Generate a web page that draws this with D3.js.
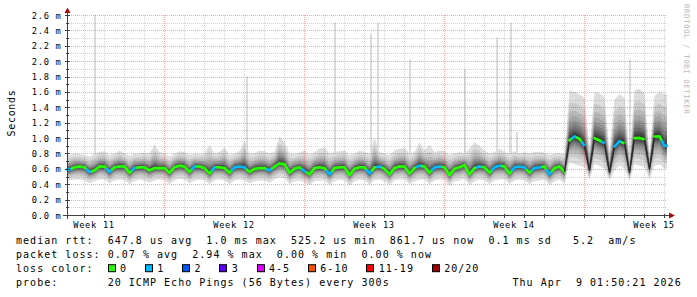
<!DOCTYPE html>
<html>
<head>
<meta charset="utf-8">
<script src="https://cdn.jsdelivr.net/npm/d3@7"></script>
<style>
  body { margin: 0; background: #fff; }
  svg { display: block; }
</style>
</head>
<body>
<div id="chart"></div>
<script>
// smokeping style graph: 30 days, one step every 6 hours

const STEP_DAYS = 0.25;
const RANGE_DAYS = 30;
const FIRST_MIDNIGHT = 0.85;   // days after graph start
const FIRST_MONDAY = 4.85;
const WEEK_LABELS = ["Week 11", "Week 12", "Week 13", "Week 14", "Week 15"];

// median rtt in ms per step
const MEDIAN = [
  0.59,0.62,0.63,0.62,0.56,0.58,0.63,0.63,0.56,0.62,
  0.63,0.63,0.55,0.61,0.62,0.62,0.58,0.61,0.61,0.61,
  0.55,0.62,0.64,0.63,0.56,0.63,0.63,0.61,0.54,0.62,
  0.62,0.61,0.55,0.62,0.63,0.62,0.56,0.60,0.61,0.61,
  0.58,0.63,0.67,0.66,0.55,0.60,0.62,0.57,0.53,0.61,
  0.62,0.61,0.53,0.61,0.62,0.62,0.52,0.60,0.62,0.62,
  0.54,0.62,0.63,0.60,0.53,0.61,0.63,0.63,0.54,0.61,
  0.64,0.63,0.55,0.62,0.63,0.62,0.52,0.60,0.62,0.65,
  0.53,0.61,0.63,0.62,0.55,0.62,0.64,0.63,0.54,0.62,
  0.63,0.62,0.55,0.61,0.62,0.63,0.53,0.61,0.63,0.56,
  0.97,1.02,0.99,0.90,0.58,1.00,0.97,0.93,0.55,0.89,
  0.96,0.93,0.55,1.00,1.00,0.98,0.60,1.02,1.02,0.90
];

// fastest ping per step (ms)
const PING_LO = [
  0.45,0.46,0.46,0.45,0.41,0.44,0.46,0.46,0.41,0.45,
  0.46,0.45,0.40,0.44,0.46,0.45,0.42,0.45,0.46,0.45,
  0.40,0.45,0.47,0.46,0.41,0.45,0.46,0.45,0.40,0.45,
  0.46,0.45,0.40,0.45,0.46,0.45,0.41,0.44,0.45,0.45,
  0.42,0.46,0.49,0.48,0.40,0.44,0.45,0.42,0.39,0.44,
  0.45,0.45,0.39,0.44,0.46,0.45,0.38,0.44,0.46,0.45,
  0.39,0.45,0.46,0.44,0.39,0.45,0.46,0.46,0.40,0.44,
  0.46,0.46,0.40,0.45,0.46,0.45,0.38,0.44,0.45,0.47,
  0.39,0.44,0.46,0.45,0.40,0.45,0.46,0.46,0.40,0.45,
  0.46,0.45,0.40,0.44,0.45,0.46,0.39,0.44,0.46,0.41,
  0.68,0.66,0.64,0.62,0.46,0.66,0.64,0.60,0.45,0.58,
  0.64,0.60,0.44,0.66,0.64,0.62,0.46,0.64,0.66,0.60
];

// slowest ping per step (ms), without the isolated spikes
const PING_HI = [
  0.78,0.80,0.79,0.78,0.76,0.80,0.82,0.83,0.78,0.80,
  0.84,0.80,0.77,0.80,0.80,0.81,0.80,0.92,0.82,0.80,
  0.76,0.80,0.83,0.82,0.78,0.80,0.79,0.80,0.91,0.80,
  0.82,0.88,0.78,0.80,0.83,0.97,0.80,0.80,0.84,0.83,
  0.80,0.82,1.02,0.95,0.80,0.79,0.81,0.84,0.78,0.82,
  0.86,0.88,0.80,0.82,0.83,0.84,0.78,0.80,0.84,0.82,
  0.80,1.00,0.82,0.80,0.78,0.84,0.86,0.87,0.80,0.82,
  0.95,0.84,0.91,0.82,0.84,0.83,0.78,0.80,0.82,0.80,
  0.86,0.95,0.90,0.84,0.80,0.82,0.86,0.82,0.80,0.83,
  0.80,0.82,0.80,0.82,0.82,0.81,0.78,0.80,0.80,0.79,
  1.62,1.60,1.57,1.52,0.88,1.60,1.58,1.53,0.84,1.50,
  1.57,1.52,0.76,1.62,1.64,1.58,0.80,1.55,1.60,1.57
];

// lost pings (of 20) per step
const LOSS = [
  1,0,0,0,1,0,0,0,1,0,
  0,0,0,1,0,0,0,0,0,0,
  0,0,0,0,0,1,0,0,0,1,
  0,0,0,1,1,1,0,0,0,0,
  1,0,0,0,0,0,0,1,0,0,
  0,0,1,0,0,0,0,0,0,0,
  1,0,1,0,0,0,0,0,0,0,
  1,0,0,1,1,0,0,0,0,0,
  0,0,1,0,0,1,1,0,0,1,
  1,1,0,1,1,0,1,0,0,0,
  0,1,0,1,0,0,0,1,1,1,
  1,0,0,0,0,0,1,0,0,1
];

// isolated slow pings: time (days) and value (ms)
const SPIKE_DAY = [1.375, 8.975, 13.4, 15.225, 15.55, 17.15, 19.9, 21.475, 22.125, 22.2, 22.475, 28.15];
const SPIKE_MAX = [2.60, 1.80, 2.50, 2.36, 2.50, 2.02, 1.90, 2.31, 2.12, 2.50, 1.08, 2.02];

const LOSS_LABELS = ["0", "1", "2", "3", "4-5", "6-10", "11-19", "20/20"];
const LOSS_COLORS = ["#26ff00", "#00b8ff", "#0059ff", "#5e00ff", "#dd00ff", "#ff5000", "#ff0000", "#a00000"];

const STAT_LINES = [
  "median rtt:  647.8 us avg  1.0 ms max  525.2 us min  861.7 us now  0.1 ms sd   5.2  am/s",
  "packet loss: 0.07 % avg  2.94 % max  0.00 % min  0.00 % now",
  "loss color:",
  "probe:       20 ICMP Echo Pings (56 Bytes) every 300s"
];
const STAMP = "Thu Apr  9 01:50:21 2026";

// ---------------------------------------------------------------

const W = 697, H = 297;
const CH = 7.05;   // legend character advance
const MONO = '"DejaVu Sans Mono", monospace';

const svg = d3.select('#chart')
    .append('svg')
    .attr('width', W)
    .attr('height', H)
    .style('font-family', MONO);

const x = d3.scaleLinear().domain([0, RANGE_DAYS]).range([67, 667]);
const y = d3.scaleLinear().domain([0, 2.6]).range([215, 15]);

// each step is plotted at its centre; the ends are held to the plot edges
const rows = MEDIAN.map((m, i) => ({ t: (i + 0.5) * STEP_DAYS, m: m, lo: PING_LO[i], hi: PING_HI[i], loss: LOSS[i] }));
const pts = [Object.assign({}, rows[0], { t: 0 })]
    .concat(rows)
    .concat([Object.assign({}, rows[rows.length - 1], { t: RANGE_DAYS })]);

// spikes sit behind the smoke, same shade as the outer band
svg.append('g')
    .selectAll('rect')
    .data(SPIKE_DAY)
    .enter()
    .append('rect')
    .attr('x', d => Math.round(x(d)) - 1)
    .attr('width', 2)
    .attr('y', (d, i) => y(SPIKE_MAX[i]))
    .attr('height', (d, i) => y(rows[Math.floor(d / STEP_DAYS)].m) - y(SPIKE_MAX[i]))
    .attr('fill', '#dddddd');

// smoke: 10 nested bands, darker towards the median
const SMOKE_FRAC = [1, 0.75, 0.58, 0.46, 0.36, 0.28, 0.21, 0.15, 0.10, 0.05];
const smoke = svg.append('g');
SMOKE_FRAC.forEach((f, b) => {
    const g = Math.floor(190 / 10 * (10 - (b + 1))) + 50;
    const area = d3.area()
        .x(d => x(d.t))
        .y0(d => y(d.m - (d.m - d.lo) * f))
        .y1(d => y(d.m + (d.hi - d.m) * f));
    smoke.append('path')
        .datum(pts)
        .attr('d', area)
        .attr('fill', d3.rgb(g, g, g));
});

// grid (drawn over the smoke, like rrdtool)
const grid = svg.append('g').attr('shape-rendering', 'crispEdges');
const minorCol = 'rgba(128,128,128,0.37)';
const majorCol = 'rgba(255,0,0,0.37)';

d3.range(1, 27).forEach(k => {
    const yy = Math.round(y(k / 10)) + 0.5;
    grid.append('line')
        .attr('x1', 67).attr('x2', 667)
        .attr('y1', yy).attr('y2', yy)
        .attr('stroke', k % 2 === 0 ? majorCol : minorCol)
        .attr('stroke-dasharray', '1,1');
});

d3.range(0, RANGE_DAYS).forEach(k => {
    const d = FIRST_MIDNIGHT + k;
    if (d >= RANGE_DAYS) return;
    const w = (d - FIRST_MONDAY) / 7;
    const major = Math.abs(w - Math.round(w)) < 1e-6;
    const xx = Math.round(x(d)) + 0.5;
    grid.append('line')
        .attr('x1', xx).attr('x2', xx)
        .attr('y1', 15).attr('y2', 215)
        .attr('stroke', major ? majorCol : minorCol)
        .attr('stroke-dasharray', '1,1');
});

// median line: flat parts coloured by loss, big jumps stay dark
const med = svg.append('g');
rows.forEach((r, i) => {
    const prev = pts[i], next = pts[i + 2];
    const cx = x(r.t), cy = y(r.m);
    const halves = [
        [(x(prev.t) + cx) / 2, (y(prev.m) + cy) / 2],
        [(x(next.t) + cx) / 2, (y(next.m) + cy) / 2]
    ];
    if (i === 0) halves[0] = [x(0), cy];
    if (i === rows.length - 1) halves[1] = [x(RANGE_DAYS), cy];
    halves.forEach(p => {
        const steep = Math.abs(p[1] - cy) / Math.max(Math.abs(p[0] - cx), 0.1) > 4;
        med.append('path')
            .attr('d', d3.line()([[cx, cy], p]))
            .attr('fill', 'none')
            .attr('stroke', steep ? '#2a2a2a' : LOSS_COLORS[r.loss])
            .attr('stroke-width', steep ? 1.3 : 2.6)
            .attr('stroke-linecap', steep ? 'butt' : 'round');
    });
});

// axes
const axisCol = '#404040';
const arrowCol = '#a01010';
const ax = svg.append('g').attr('shape-rendering', 'crispEdges');
ax.append('line').attr('x1', 63).attr('x2', 671).attr('y1', 215.5).attr('y2', 215.5).attr('stroke', axisCol);
ax.append('line').attr('x1', 67.5).attr('x2', 67.5).attr('y1', 219).attr('y2', 11).attr('stroke', axisCol);

d3.range(0, 27).forEach(k => {
    const yy = Math.round(y(k / 10)) + 0.5;
    const len = k % 2 === 0 ? 2 : 1;
    ax.append('line').attr('x1', 67 - len).attr('x2', 68 + len)
        .attr('y1', yy).attr('y2', yy).attr('stroke', axisCol);
});
d3.range(0, RANGE_DAYS).forEach(k => {
    const xx = Math.round(x(FIRST_MIDNIGHT + k)) + 0.5;
    ax.append('line').attr('x1', xx).attr('x2', xx)
        .attr('y1', 214).attr('y2', 218).attr('stroke', axisCol);
});

svg.append('path')
    .attr('d', 'M669,212.5L675,215.5L669,218.5Z')
    .attr('fill', arrowCol);
svg.append('path')
    .attr('d', 'M64.5,13L67.5,7.5L70.5,13Z')
    .attr('fill', arrowCol);

// y labels
svg.append('g')
    .selectAll('text')
    .data(y.ticks(13))
    .enter()
    .append('text')
    .attr('x', 61.5)
    .attr('y', d => y(d) + 3.5)
    .attr('text-anchor', 'end')
    .style('font-size', '8.7px')
    .style('letter-spacing', '0.7px')
    .text(d => d3.format('.1f')(d) + ' m');

// week labels, centred in each week
svg.append('g')
    .selectAll('text')
    .data(WEEK_LABELS)
    .enter()
    .append('text')
    .attr('x', (d, i) => x(FIRST_MONDAY + 3.5 + (i - 1) * 7))
    .attr('y', 227.5)
    .attr('text-anchor', 'middle')
    .style('font-size', '8.7px')
    .style('letter-spacing', '0.7px')
    .text(d => d);

// vertical label
svg.append('text')
    .attr('transform', 'translate(15,113) rotate(-90)')
    .attr('text-anchor', 'middle')
    .style('font-size', '10px')
    .style('letter-spacing', '0.7px')
    .text('Seconds');

// watermark
svg.append('text')
    .attr('transform', 'translate(684,4) rotate(90)')
    .style('font-size', '7.5px')
    .style('letter-spacing', '0.5px')
    .attr('fill', '#b8b8b8')
    .text('RRDTOOL / TOBI OETIKER');

// legend lines
const legend = svg.append('g')
    .style('font-size', '10px')
    .style('letter-spacing', (CH - 6.02) + 'px');

STAT_LINES.forEach((s, i) => {
    legend.append('text')
        .attr('x', 16)
        .attr('y', 244 + i * 14.1)
        .style('white-space', 'pre')
        .text(s);
});

legend.append('text')
    .attr('x', 512.5)
    .attr('y', 244 + 3 * 14.1)
    .style('white-space', 'pre')
    .text(STAMP);

let lx = 16 + 13 * CH;
const rowY = 244 + 2 * 14.1;
LOSS_LABELS.forEach((lab, i) => {
    legend.append('rect')
        .attr('x', Math.round(lx) + 0.5)
        .attr('y', rowY - 7.5)
        .attr('width', 7)
        .attr('height', 7)
        .attr('fill', LOSS_COLORS[i])
        .attr('stroke', '#000')
        .attr('stroke-width', 1);
    legend.append('text')
        .attr('x', lx + 12.3)
        .attr('y', rowY)
        .text(lab);
    lx += 12.3 + lab.length * CH + 17.9;
});
</script>
</body>
</html>
